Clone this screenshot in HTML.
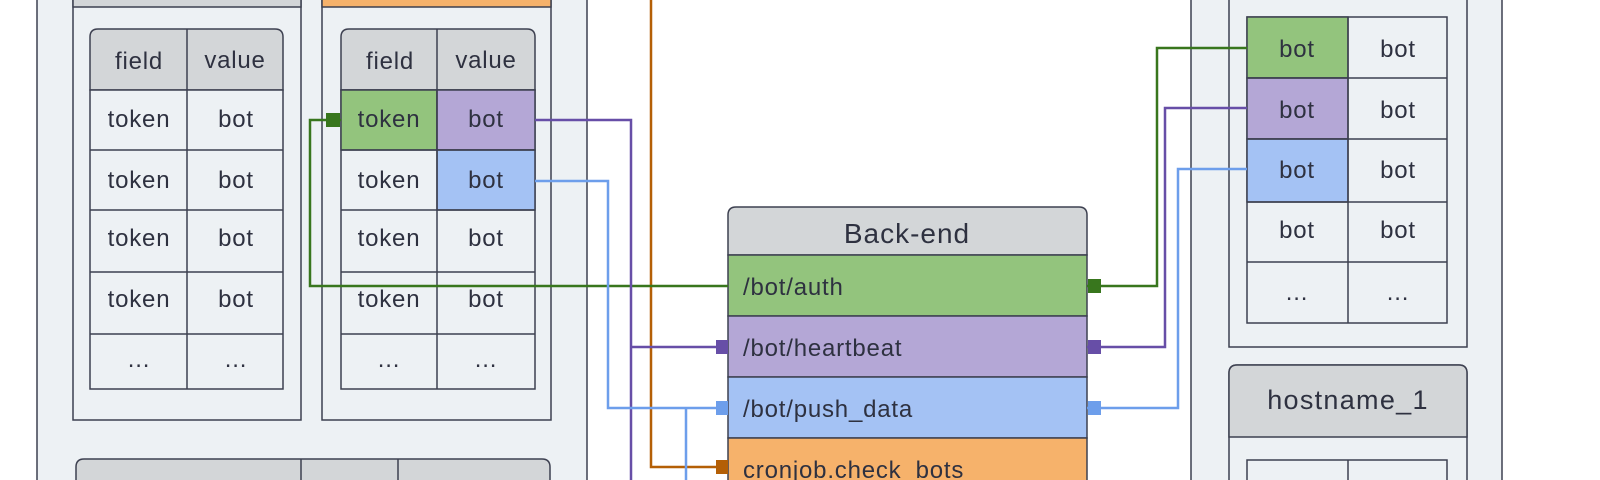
<!DOCTYPE html>
<html><head><meta charset="utf-8"><style>
html,body{margin:0;padding:0;background:#fff;}
svg{display:block;font-family:"Liberation Sans",Arial,sans-serif;}
text{fill:#2e3140;}
</style></head><body>
<svg width="1600" height="480" viewBox="0 0 1600 480" xmlns="http://www.w3.org/2000/svg">
<g stroke="#3d4050" stroke-width="1.5">
<rect x="37" y="-10" width="550" height="500" fill="#edf1f4"/>
<rect x="73" y="-10" width="228" height="430" fill="#edf1f4"/>
<rect x="73" y="-10" width="228" height="17" fill="#d3d6d8"/>
<rect x="322" y="-10" width="229" height="430" fill="#edf1f4"/>
<rect x="322" y="-10" width="229" height="17" fill="#f6b26b"/>
<path d="M90 90 V37 Q90 29 98 29 H275 Q283 29 283 37 V90 Z" fill="#d3d6d8"/>
<rect x="90" y="90" width="193" height="299" fill="#edf1f4"/>
<line x1="187" y1="29" x2="187" y2="389"/>
<line x1="90" y1="150" x2="283" y2="150"/><line x1="90" y1="210" x2="283" y2="210"/>
<line x1="90" y1="272" x2="283" y2="272"/><line x1="90" y1="334" x2="283" y2="334"/>
<path d="M341 90 V37 Q341 29 349 29 H527 Q535 29 535 37 V90 Z" fill="#d3d6d8"/>
<rect x="341" y="90" width="194" height="299" fill="#edf1f4"/>
<rect x="341" y="90" width="96" height="60" fill="#93c47d"/>
<rect x="437" y="90" width="98" height="60" fill="#b4a7d6"/>
<rect x="437" y="150" width="98" height="60" fill="#a4c2f4"/>
<line x1="437" y1="29" x2="437" y2="389"/>
<line x1="341" y1="150" x2="535" y2="150"/><line x1="341" y1="210" x2="535" y2="210"/>
<line x1="341" y1="272" x2="535" y2="272"/><line x1="341" y1="334" x2="535" y2="334"/>
<path d="M76 490 V467 Q76 459 84 459 H542 Q550 459 550 467 V490 Z" fill="#d3d6d8"/>
<line x1="301" y1="459" x2="301" y2="490"/><line x1="398" y1="459" x2="398" y2="490"/>
<rect x="1191" y="-10" width="311" height="500" fill="#edf1f4"/>
<rect x="1229" y="-10" width="238" height="357" fill="#edf1f4"/>
<rect x="1247" y="17" width="200" height="306" fill="#edf1f4"/>
<rect x="1247" y="17" width="101" height="61" fill="#93c47d"/>
<rect x="1247" y="78" width="101" height="61" fill="#b4a7d6"/>
<rect x="1247" y="139" width="101" height="63" fill="#a4c2f4"/>
<line x1="1348" y1="17" x2="1348" y2="323"/>
<line x1="1247" y1="78" x2="1447" y2="78"/><line x1="1247" y1="139" x2="1447" y2="139"/>
<line x1="1247" y1="202" x2="1447" y2="202"/><line x1="1247" y1="262" x2="1447" y2="262"/>
<path d="M1229 490 V373 Q1229 365 1237 365 H1459 Q1467 365 1467 373 V490 Z" fill="#edf1f4"/>
<path d="M1229 437 V373 Q1229 365 1237 365 H1459 Q1467 365 1467 373 V437 Z" fill="#d3d6d8"/>
<rect x="1247" y="460" width="200" height="40" fill="#edf1f4"/>
<line x1="1348" y1="460" x2="1348" y2="490"/>
<path d="M728 255 V215 Q728 207 736 207 H1079 Q1087 207 1087 215 V255 Z" fill="#d3d6d8"/>
<rect x="728" y="255" width="359" height="61" fill="#93c47d"/>
<rect x="728" y="316" width="359" height="61" fill="#b4a7d6"/>
<rect x="728" y="377" width="359" height="61" fill="#a4c2f4"/>
<rect x="728" y="438" width="359" height="60" fill="#f6b26b"/>
</g>
<g fill="none" stroke-width="2.5">
<path d="M651 -5 V467 H720" stroke="#b45f06"/>
<path d="M341 120 H310 V286 H728" stroke="#38761d"/>
<path d="M1087 286 H1157 V48 H1247" stroke="#38761d"/>
<path d="M535 120 H631 V490 M631 347 H720" stroke="#674ea7"/>
<path d="M1087 347 H1165 V108 H1247" stroke="#674ea7"/>
<path d="M535 181 H608 V408 H720 M686 408 V490" stroke="#6d9eeb"/>
<path d="M1087 408 H1178 V169 H1247" stroke="#6d9eeb"/>
</g>
<rect x="326" y="113" width="14" height="14" fill="#38761d"/>
<rect x="1088" y="279" width="13" height="14" fill="#38761d"/>
<rect x="716" y="340" width="12" height="14" fill="#674ea7"/>
<rect x="1088" y="340" width="13" height="14" fill="#674ea7"/>
<rect x="716" y="401" width="12" height="14" fill="#6d9eeb"/>
<rect x="1088" y="401" width="13" height="14" fill="#6d9eeb"/>
<rect x="716" y="460" width="12" height="14" fill="#b45f06"/>
<g font-size="24" text-anchor="middle" letter-spacing="0.8">
<text x="139" y="69">field</text><text x="235" y="68">value</text>
<text x="390" y="69">field</text><text x="486" y="68">value</text>
<text x="139" y="127">token</text><text x="236" y="127">bot</text>
<text x="139" y="188">token</text><text x="236" y="188">bot</text>
<text x="139" y="246">token</text><text x="236" y="246">bot</text>
<text x="139" y="307">token</text><text x="236" y="307">bot</text>
<text x="139" y="367">...</text><text x="236" y="367">...</text>
<text x="389" y="127">token</text><text x="486" y="127">bot</text>
<text x="389" y="188">token</text><text x="486" y="188">bot</text>
<text x="389" y="246">token</text><text x="486" y="246">bot</text>
<text x="389" y="307">token</text><text x="486" y="307">bot</text>
<text x="389" y="367">...</text><text x="486" y="367">...</text>
<text x="1297" y="57">bot</text><text x="1398" y="57">bot</text>
<text x="1297" y="118">bot</text><text x="1398" y="118">bot</text>
<text x="1297" y="178">bot</text><text x="1398" y="178">bot</text>
<text x="1297" y="238">bot</text><text x="1398" y="238">bot</text>
<text x="1297" y="300">...</text><text x="1398" y="300">...</text>
<text x="1348" y="409" font-size="27" letter-spacing="1.3">hostname_1</text>
<text x="907" y="243" font-size="28" letter-spacing="1">Back-end</text>
</g>
<g font-size="24" letter-spacing="0.8">
<text x="743" y="295">/bot/auth</text>
<text x="743" y="356">/bot/heartbeat</text>
<text x="743" y="417">/bot/push_data</text>
<text x="743" y="478">cronjob.check_bots</text>
</g>
</svg>
</body></html>
